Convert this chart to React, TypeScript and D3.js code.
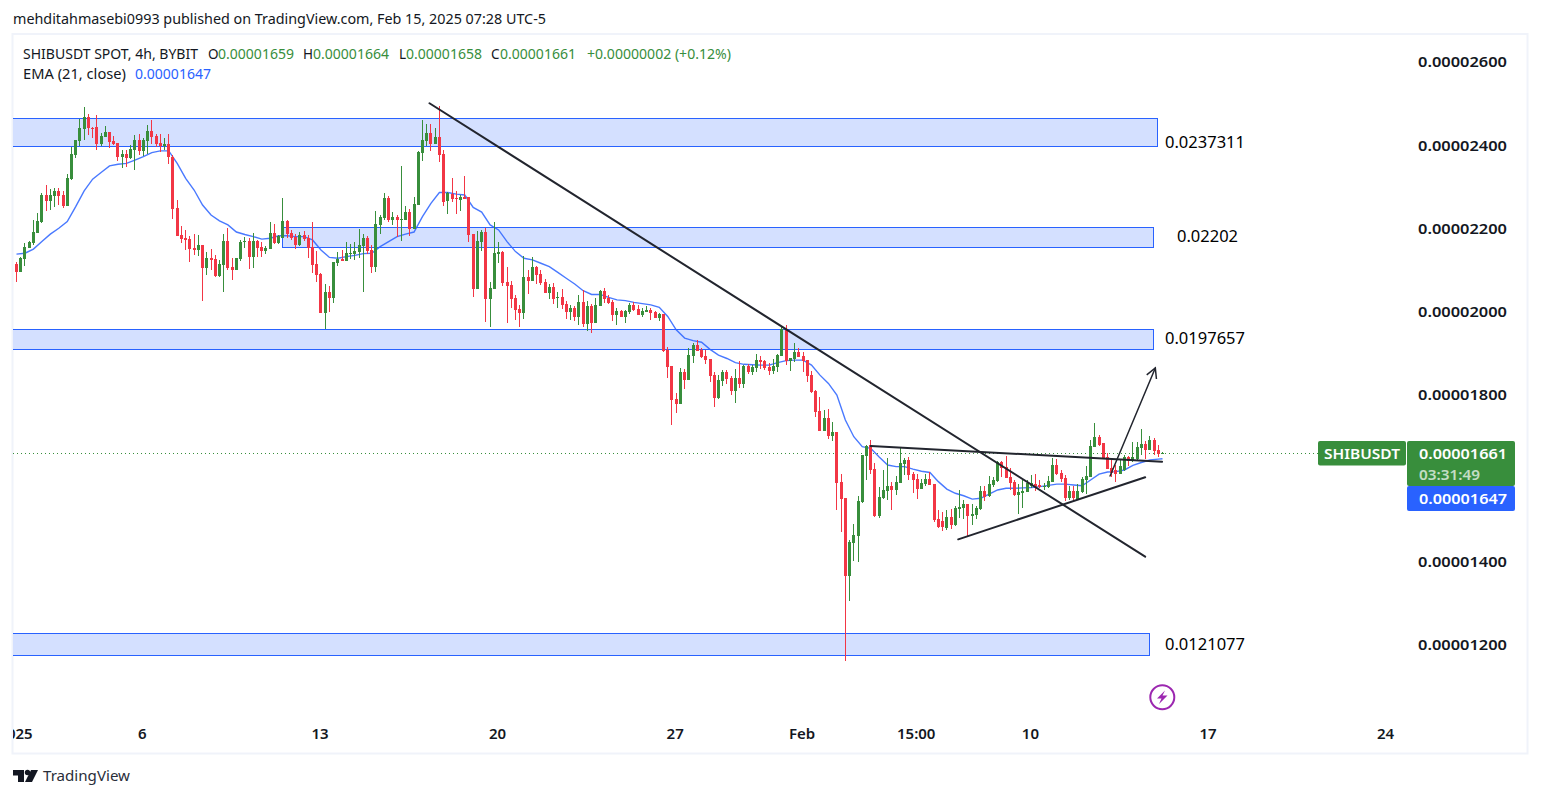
import React, { useMemo } from "react";
import * as d3 from "d3";

// Prices in units of 0.00000001. Each row: open, high, low, close (4h bars from Jan 1 2025)
const candleRows: number[][] = [
[2115,2119,2073,2096],[2096,2131,2096,2130],[2127,2165,2111,2156],[2154,2171,2154,2168],[2165,2221,2162,2192],[2190,2237,2190,2219],[2216,2287,2214,2281],[2281,2305,2243,2267],[2267,2295,2245,2281],[2279,2297,2252,2291],
[2291,2297,2257,2279],[2281,2291,2250,2255],[2255,2331,2255,2322],[2319,2397,2317,2379],[2377,2413,2370,2413],[2411,2463,2399,2442],[2439,2492,2413,2468],[2468,2475,2425,2442],[2443,2444,2418,2442],[2444,2473,2389,2403],
[2403,2430,2399,2423],[2420,2447,2420,2432],[2432,2432,2394,2408],[2411,2423,2401,2403],[2406,2406,2363,2372],[2372,2389,2346,2379],[2379,2389,2348,2370],[2370,2401,2367,2391],[2389,2425,2341,2413],[2413,2427,2377,2387],
[2387,2418,2375,2413],[2411,2449,2379,2435],[2435,2461,2403,2420],[2423,2427,2396,2403],[2406,2427,2384,2399],[2399,2418,2389,2403],[2403,2427,2355,2372],[2372,2377,2223,2247],[2250,2269,2183,2183],[2185,2207,2166,2175],
[2178,2197,2149,2173],[2175,2183,2120,2151],[2154,2187,2137,2149],[2149,2185,2135,2161],[2161,2161,2027,2106],[2106,2144,2089,2130],[2130,2151,2101,2125],[2127,2137,2084,2087],[2087,2125,2084,2115],[2113,2187,2048,2171],
[2171,2202,2101,2106],[2108,2130,2077,2101],[2101,2130,2101,2130],[2127,2173,2123,2168],[2168,2180,2154,2171],[2171,2178,2103,2132],[2132,2189,2106,2171],[2171,2173,2132,2154],[2156,2168,2132,2147],[2147,2159,2139,2154],
[2151,2216,2151,2190],[2190,2211,2163,2166],[2166,2185,2163,2183],[2178,2274,2178,2219],[2219,2221,2178,2187],[2190,2197,2173,2178],[2180,2187,2151,2161],[2161,2192,2159,2185],[2185,2195,2171,2175],[2178,2185,2130,2154],
[2156,2216,2094,2113],[2115,2147,2072,2089],[2091,2094,1998,1998],[1998,2067,1959,2048],[2048,2063,2000,2034],[2034,2120,2022,2120],[2118,2144,2111,2127],[2127,2149,2123,2123],[2123,2168,2123,2142],[2139,2163,2127,2142],
[2139,2168,2125,2147],[2144,2199,2130,2161],[2159,2187,2048,2178],[2178,2183,2139,2147],[2149,2161,2094,2108],[2108,2243,2096,2211],[2209,2233,2187,2228],[2226,2286,2221,2274],[2274,2279,2216,2221],[2221,2240,2209,2228],
[2228,2233,2180,2221],[2222,2351,2171,2223],[2221,2255,2221,2240],[2240,2247,2183,2199],[2199,2276,2199,2259],[2257,2387,2257,2384],[2382,2461,2363,2413],[2411,2451,2399,2430],[2430,2451,2387,2403],[2403,2442,2403,2420],
[2420,2495,2360,2377],[2379,2389,2255,2264],[2267,2288,2235,2286],[2283,2322,2264,2271],[2274,2291,2235,2271],[2269,2281,2243,2276],[2276,2327,2271,2271],[2275,2276,2168,2185],[2187,2187,2036,2055],[2055,2195,2055,2171],
[2168,2197,2147,2192],[2192,2202,1976,2031],[2031,2072,1964,2058],[2055,2216,2055,2142],[2139,2168,2118,2144],[2144,2147,2063,2070],[2072,2108,1974,2063],[2065,2075,2010,2031],[2034,2041,1981,2005],[2007,2017,1964,1998],
[1998,2135,1983,2084],[2084,2101,2043,2075],[2075,2132,2075,2108],[2108,2111,2067,2089],[2091,2101,2065,2070],[2072,2079,2046,2046],[2046,2067,2031,2060],[2060,2070,2019,2031],[2034,2048,2010,2036],[2036,2055,2007,2017],
[2019,2027,1983,2000],[2000,2017,1981,2010],[2010,2015,1979,1988],[1988,2041,1969,2024],[2024,2053,1964,1971],[1971,2027,1955,2015],[2015,2019,1950,1974],[1974,2034,1974,2017],[2015,2053,2015,2051],[2051,2058,2022,2031],
[2034,2041,2019,2022],[2024,2029,1979,1993],[1993,2010,1969,2003],[2003,2005,1988,1988],[1988,2005,1974,2003],[2000,2022,1995,2017],[2017,2024,2003,2005],[2007,2017,1993,1993],[1993,2010,1988,2003],[2000,2015,2000,2005],
[2005,2010,1981,1998],[2000,2003,1986,1986],[1986,1998,1979,1995],[1995,1995,1904,1907],[1909,1916,1842,1868],[1871,1871,1729,1789],[1791,1806,1758,1779],[1779,1866,1779,1856],[1856,1863,1815,1837],[1837,1914,1837,1897],
[1895,1926,1878,1921],[1921,1933,1907,1907],[1908,1913,1889,1892],[1894,1908,1875,1884],[1887,1887,1832,1846],[1848,1856,1772,1793],[1793,1848,1791,1836],[1834,1860,1822,1856],[1856,1860,1827,1839],[1841,1846,1800,1810],
[1810,1863,1781,1841],[1841,1882,1817,1827],[1827,1872,1817,1870],[1870,1875,1851,1856],[1856,1872,1848,1868],[1865,1899,1856,1884],[1884,1894,1863,1880],[1882,1884,1860,1865],[1868,1877,1848,1858],[1858,1887,1851,1870],
[1868,1899,1856,1896],[1894,1966,1894,1959],[1959,1968,1872,1882],[1882,1889,1858,1889],[1887,1925,1880,1904],[1904,1913,1892,1892],[1894,1904,1856,1882],[1884,1884,1832,1846],[1848,1858,1805,1808],[1810,1812,1748,1760],
[1762,1796,1714,1714],[1714,1764,1714,1745],[1745,1767,1695,1702],[1702,1736,1690,1712],[1712,1712,1524,1589],[1592,1611,1472,1551],[1553,1553,1160,1366],[1366,1452,1304,1448],[1445,1491,1402,1464],[1462,1558,1400,1546],
[1544,1656,1541,1656],[1654,1680,1596,1678],[1680,1692,1611,1620],[1623,1637,1508,1510],[1510,1580,1505,1556],[1553,1620,1551,1572],[1570,1649,1548,1582],[1582,1592,1524,1572],[1572,1606,1560,1592],[1589,1673,1589,1637],
[1635,1649,1608,1644],[1644,1652,1596,1608],[1611,1616,1565,1596],[1599,1611,1551,1575],[1574,1598,1574,1589],[1586,1610,1582,1598],[1598,1615,1584,1584],[1586,1586,1495,1500],[1502,1524,1481,1483],[1498,1519,1474,1483],
[1481,1524,1476,1507],[1507,1526,1478,1488],[1488,1534,1486,1529],[1526,1572,1505,1531],[1529,1548,1502,1538],[1538,1538,1462,1510],[1510,1538,1488,1514],[1512,1534,1502,1529],[1526,1582,1524,1570],[1570,1582,1546,1555],
[1558,1606,1555,1586],[1584,1603,1579,1596],[1594,1642,1591,1639],[1639,1642,1603,1625],[1627,1654,1601,1601],[1603,1625,1572,1589],[1591,1596,1558,1560],[1560,1586,1514,1567],[1565,1596,1529,1570],[1567,1596,1567,1589],
[1582,1608,1577,1589],[1586,1610,1570,1579],[1584,1596,1577,1579],[1578,1588,1572,1582],[1579,1606,1577,1594],[1591,1649,1591,1632],[1632,1646,1608,1610],[1613,1620,1591,1598],[1601,1608,1546,1553],[1553,1582,1548,1570],
[1570,1582,1546,1553],[1550,1586,1550,1570],[1567,1603,1565,1598],[1596,1630,1562,1606],[1603,1692,1603,1678],[1675,1733,1675,1699],[1699,1704,1678,1680],[1685,1685,1646,1646],[1651,1661,1622,1622],[1625,1644,1603,1613],
[1620,1632,1591,1610],[1610,1644,1610,1630],[1620,1656,1618,1651],[1651,1654,1630,1642],[1642,1687,1639,1651],[1646,1687,1642,1675],[1673,1718,1656,1682],[1682,1690,1646,1668],[1668,1702,1668,1692],[1692,1697,1656,1666],
[1668,1680,1651,1658],[1659,1664,1658,1661],
];

// EMA(21) read every second bar; the last value belongs to the last bar
const emaValues = [2139,2141,2151,2169,2187,2201,2217,2253,2291,2319,2335,2351,2355,2357,2365,2373,2383,2387,2387,2357,2321,2293,2257,2233,2219,2209,2192,2186,2181,2175,2177,2183,2183,2181,2181,2173,2149,2131,2129,2133,2136,2140,2141,2157,2169,2181,2187,2192,2229,2261,2287,2287,2283,2281,2251,2240,2209,2197,2169,2145,2129,2125,2117,2109,2095,2081,2067,2051,2042,2042,2035,2029,2027,2023,2020,2017,2011,1989,1957,1937,1931,1927,1910,1896,1888,1878,1874,1873,1872,1872,1878,1883,1884,1884,1872,1848,1828,1800,1740,1700,1676,1672,1651,1632,1628,1628,1622,1617,1614,1592,1574,1564,1558,1550,1552,1562,1572,1576,1576,1577,1578,1580,1583,1586,1586,1584,1582,1596,1610,1615,1616,1620,1631,1638,1644,1646,1647];

const priceTicks = [2600, 2400, 2200, 2000, 1800, 1400, 1200];
const timeTicks: [number, string][] = [[0, "2025"], [30, "6"], [72, "13"], [114, "20"], [156, "27"], [186, "Feb"], [213, "15:00"], [240, "10"], [282, "17"], [324, "24"]];

// Zones: bar where it ends / starts, price top, price bottom
const zoneTops = [2465, 2203, 1958, 1227];
const zoneBottoms = [2398, 2155, 1910, 1175];
const zoneStarts = [-10, 62.9, -10, -10];
const zoneEnds = [269.7, 268.7, 268.7, 267.8];

const levelLabels: [string, number, number, number][] = [
  ["0.0237311", 1165, 142, 80], ["0.02202", 1177, 236, 61], ["0.0197657", 1165, 338, 80], ["0.0121077", 1165, 644, 80],
];

const trendLines: number[][] = [
  [97.66, 2501.5, 266.9, 1411.5],
  [202, 1677.6, 270.9, 1639.8],
  [222.7, 1453.3, 266.9, 1602.4],
  [258.6, 1605.5, 269.3, 1865.1],
];

const lastPrice = 1661;
const GREEN = "#388e3c";
const RED = "#f23645";
const BLUE = "#2962ff";
const INK = "#131722";
const FONT = "'Noto Sans', Roboto, sans-serif";

const fmt = (v: number) => (v / 1e8).toFixed(8);

export default function App() {
  const x = useMemo(() => d3.scaleLinear().domain([0, 271]).range([16.5, 1162.5]), []);
  const y = useMemo(() => d3.scaleLinear().domain([1200, 2600]).range([644.7, 62.3]), []);
  const emaLine = d3.line<number>()
    .x((_, i) => x(i === emaValues.length - 1 ? 271 : i * 2))
    .y((d) => y(d));
  const arrow = trendLines[3];
  const ax = x(arrow[2]), ay = y(arrow[3]);
  const ang = Math.atan2(ay - y(arrow[1]), ax - x(arrow[0]));
  const wing = 11;
  const wingA = [ax - wing * Math.cos(ang - 0.5), ay - wing * Math.sin(ang - 0.5)];
  const wingB = [ax - wing * Math.cos(ang + 0.5), ay - wing * Math.sin(ang + 0.5)];

  return (
    <svg width={1541} height={798} viewBox="0 0 1541 798"
      style={{ position: "absolute", left: 0, top: 0, background: "#fff", fontFamily: FONT }}>
      <defs>
        <clipPath id="plot"><rect x={13} y={35} width={1514} height={718} /></clipPath>
      </defs>
      <text x={13} y={24} fontSize={13.5} fill={INK} textLength={533} lengthAdjust="spacingAndGlyphs">
        mehditahmasebi0993 published on TradingView.com, Feb 15, 2025 07:28 UTC-5
      </text>
      <rect x={12.5} y={34} width={1515} height={719.5} fill="none" stroke="#f0f3fa" strokeWidth={2} />

      <g clipPath="url(#plot)">
        {zoneTops.map((t, k) => (
          <rect key={k} x={Math.round(x(zoneStarts[k])) + 0.5} y={Math.round(y(t)) + 0.5}
            width={Math.round(x(zoneEnds[k])) - Math.round(x(zoneStarts[k]))}
            height={Math.round(y(zoneBottoms[k])) - Math.round(y(t))}
            fill="#d4e0ff" stroke={BLUE} strokeWidth={1} />
        ))}
        <line x1={13} x2={1318} y1={453.5} y2={453.5} stroke={GREEN} strokeWidth={1} strokeDasharray="1 3" />
        <path d={emaLine(emaValues) as string} fill="none" stroke={BLUE} strokeWidth={1.4} opacity={0.85} />
        <g shapeRendering="crispEdges">
          {candleRows.map(([o, h, l, c], i) => {
            const cx = Math.floor(x(i));
            const col = c < o ? RED : GREEN;
            const top = Math.round(y(Math.max(o, c)));
            const bot = Math.round(y(Math.min(o, c)));
            return (
              <g key={i} fill={col}>
                <rect x={cx} y={Math.round(y(h))} width={1} height={Math.max(1, Math.round(y(l)) - Math.round(y(h)))} />
                <rect x={cx - 1} y={top} width={3} height={Math.max(1, bot - top)} />
              </g>
            );
          })}
        </g>
        {trendLines.map((t, k) => (
          <line key={k} x1={x(t[0])} y1={y(t[1])} x2={x(t[2])} y2={y(t[3])}
            stroke="#22252e" strokeWidth={k === 3 ? 1.5 : 2} strokeLinecap="round" />
        ))}
        <path d={`M${wingA[0]},${wingA[1]}L${ax},${ay}L${wingB[0]},${wingB[1]}`} fill="none" stroke="#22252e" strokeWidth={1.5} />
        {timeTicks.map(([i, label]) => (
          <text key={label} x={x(i) - 1} y={739} textAnchor="middle" fontSize={15} fontWeight={600} fill={INK}>{label}</text>
        ))}
      </g>

      <text x={23} y={59} fontSize={13.5} fill={INK} textLength={175} lengthAdjust="spacingAndGlyphs">SHIBUSDT SPOT, 4h, BYBIT</text>
      {[
        ["O", 208, 218, 0, 1659], ["H", 303, 313, 0, 1664], ["L", 399, 406, 0, 1658], ["C", 491, 500, 0, 1661],
      ].map(([letter, lx, vx, , v]) => (
        <g key={letter as string} fontSize={13.5}>
          <text x={lx as number} y={59} fill={INK}>{letter}</text>
          <text x={vx as number} y={59} fill={GREEN} textLength={76} lengthAdjust="spacingAndGlyphs">{fmt(v as number)}</text>
        </g>
      ))}
      <text x={587} y={59} fontSize={13.5} fill={GREEN} textLength={144} lengthAdjust="spacingAndGlyphs">+0.00000002 (+0.12%)</text>
      <text x={23} y={79} fontSize={13.5} fill={INK} textLength={103} lengthAdjust="spacingAndGlyphs">EMA (21, close)</text>
      <text x={135} y={79} fontSize={13.5} fill={BLUE} textLength={76} lengthAdjust="spacingAndGlyphs">{fmt(1647)}</text>

      {levelLabels.map(([s, lx, ly, w]) => (
        <text key={s} x={lx} y={ly + 6} fontSize={16} fill="#000" textLength={w} lengthAdjust="spacingAndGlyphs">{s}</text>
      ))}

      {priceTicks.map((p) => (
        <text key={p} x={1418} y={y(p) + 5} fontSize={15} fontWeight={600} fill={INK} textLength={89} lengthAdjust="spacingAndGlyphs">{fmt(p)}</text>
      ))}

      <rect x={1318} y={441} width={88} height={24.5} rx={2} fill={GREEN} />
      <text x={1362} y={459} textAnchor="middle" fontSize={15} fontWeight={600} fill="#fff" textLength={76} lengthAdjust="spacingAndGlyphs">SHIBUSDT</text>
      <rect x={1407} y={441} width={108} height={45} rx={2} fill={GREEN} />
      <text x={1419} y={459} fontSize={15} fontWeight={600} fill="#fff" textLength={88} lengthAdjust="spacingAndGlyphs">{fmt(lastPrice)}</text>
      <text x={1419} y={480} fontSize={15} fontWeight={600} fill="#fff" opacity={0.7} textLength={61} lengthAdjust="spacingAndGlyphs">03:31:49</text>
      <rect x={1407} y={486} width={108} height={25} rx={2} fill={BLUE} />
      <text x={1419} y={504} fontSize={15} fontWeight={600} fill="#fff" textLength={88} lengthAdjust="spacingAndGlyphs">{fmt(1647)}</text>

      <circle cx={1162.3} cy={697.3} r={12} fill="none" stroke="#9c27b0" strokeWidth={2} />
      <path d="M1165,690.5L1157,698.5H1161.5L1159,704L1167.5,695.5H1162.5Z" fill="#9c27b0" />

      <g fill="#131722">
        <path d="M13,770H24V782H18V775.5H13Z" />
        <circle cx={27.5} cy={772.5} r={2.7} />
        <path d="M31,770H38L32,782H25Z" />
      </g>
      <text x={43} y={781} fontSize={15} fill="#2a2e39" textLength={87} lengthAdjust="spacingAndGlyphs">TradingView</text>
    </svg>
  );
}
